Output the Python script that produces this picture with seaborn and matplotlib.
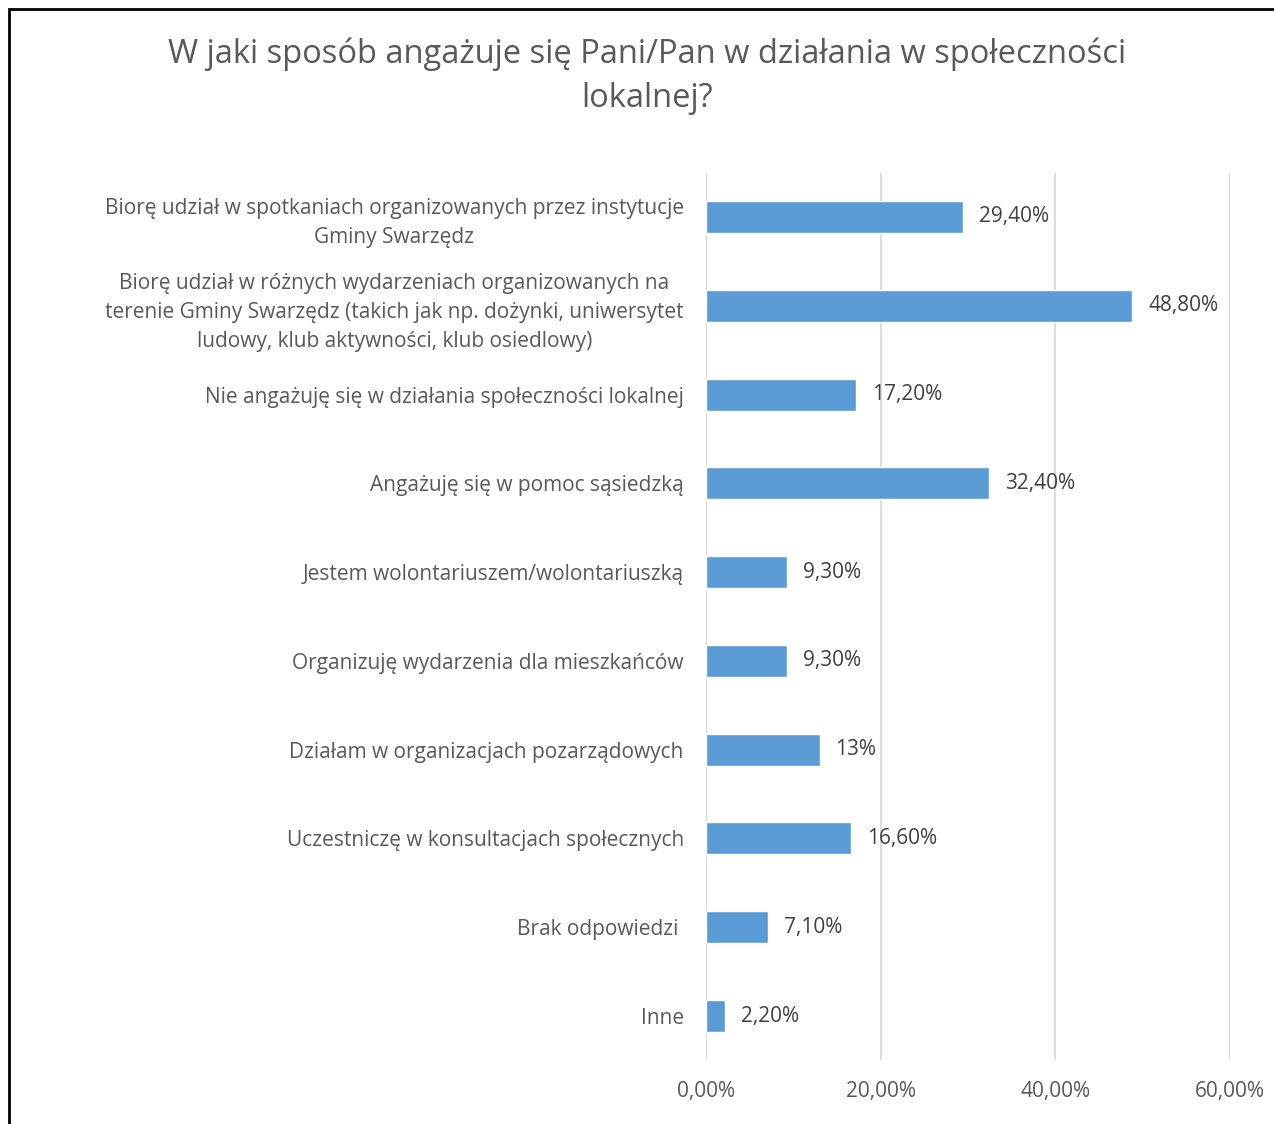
import matplotlib
matplotlib.use("Agg")
import matplotlib.pyplot as plt
import seaborn as sns
import pandas as pd
from matplotlib.patches import Rectangle

categories = [
    "Biorę udział w spotkaniach organizowanych przez instytucje\nGminy Swarzędz",
    "Biorę udział w różnych wydarzeniach organizowanych na\nterenie Gminy Swarzędz (takich jak np. dożynki, uniwersytet\nludowy, klub aktywności, klub osiedlowy)",
    "Nie angażuję się w działania społeczności lokalnej",
    "Angażuję się w pomoc sąsiedzką",
    "Jestem wolontariuszem/wolontariuszką",
    "Organizuję wydarzenia dla mieszkańców",
    "Działam w organizacjach pozarządowych",
    "Uczestniczę w konsultacjach społecznych",
    "Brak odpowiedzi ",
    "Inne",
]
values = [29.4, 48.8, 17.2, 32.4, 9.3, 9.3, 13.0, 16.6, 7.1, 2.2]
value_labels = ["29,40%", "48,80%", "17,20%", "32,40%", "9,30%", "9,30%",
                "13%", "16,60%", "7,10%", "2,20%"]
x_ticks = [0, 20, 40, 60]
x_tick_labels = ["0,00%", "20,00%", "40,00%", "60,00%"]
title = "W jaki sposób angażuje się Pani/Pan w działania w społeczności\nlokalnej?"

sns.set_theme(style="white")
plt.rcParams["font.family"] = ["Open Sans", "DejaVu Sans"]

df = pd.DataFrame({"cat": categories, "val": values})

fig = plt.figure(figsize=(12.74, 11.24), dpi=100)
ax = fig.add_axes([706 / 1274, 1 - 1060.4 / 1124, (1230 - 706) / 1274, (1060.4 - 172.6) / 1124])

sns.barplot(data=df, x="val", y="cat", orient="h", color="#5B9BD5",
            width=0.36, saturation=1, ax=ax)

ax.set_xlim(0, 60)
ax.set_ylim(9.5, -0.5)
ax.set_xticks(x_ticks)
ax.set_xticklabels(x_tick_labels)
ax.set_xlabel("")
ax.set_ylabel("")
ax.grid(axis="x", color="#D9D9D9", linewidth=1.3)
ax.set_axisbelow(True)
for s in ax.spines.values():
    s.set_visible(False)
ax.tick_params(axis="x", length=0, pad=15, labelsize=15, labelcolor="#595959")
ax.tick_params(axis="y", length=0, pad=16, labelsize=15, labelcolor="#595959")
for lab in ax.get_yticklabels():
    lab.set_multialignment("center")
    lab.set_linespacing(1.5)

for i, (v, t) in enumerate(zip(values, value_labels)):
    ax.annotate(t, xy=(v, i), xytext=(16, 0), textcoords="offset pixels",
                va="center", ha="left", fontsize=15, color="#404040")

fig.text(647 / 1274, 1 - 76 / 1124, title, ha="center", va="center",
         fontsize=23.5, color="#595959", linespacing=1.45)

fig.patches.append(Rectangle((9 / 1274, -0.1), 1.2, (1124 - 9) / 1124 + 0.1,
                             transform=fig.transFigure, fill=False,
                             edgecolor="black", linewidth=2, figure=fig))

fig.savefig("out.png", dpi=100, facecolor="white")
